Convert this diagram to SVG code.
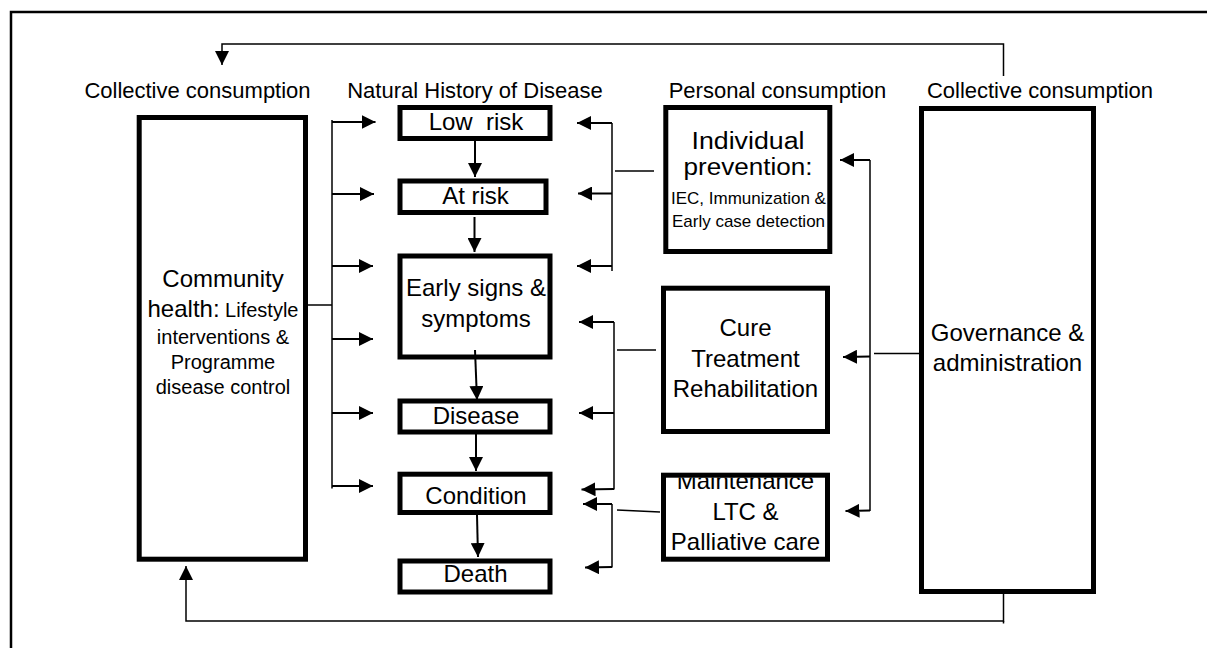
<svg xmlns="http://www.w3.org/2000/svg" width="1207" height="648" viewBox="0 0 1207 648">
<style>
.box{fill:#fff;stroke:#000;stroke-width:5}
.t{font-family:"Liberation Sans",Arial,Helvetica,sans-serif;fill:#000;text-anchor:middle}
.f22{font-size:22px}
.f24{font-size:24px}
.f23{font-size:23px}
.f20{font-size:20px}
.f17{font-size:17px}
.c{stroke:#000;fill:none;stroke-width:2}
.b{stroke:#000;fill:none;stroke-width:1.5}
.frame{stroke:#000;fill:none;stroke-width:2.5}
</style>
<defs>
<marker id="ah" markerUnits="userSpaceOnUse" markerWidth="14" markerHeight="14" refX="14" refY="7" orient="auto">
<path d="M0,0 L14,7 L0,14 Z" fill="#000"/>
</marker>
<clipPath id="mclip"><rect x="661" y="477.5" width="170" height="90"/></clipPath>
</defs>
<rect width="1207" height="648" fill="#fff"/>
<g id="frame">
<path class="frame" d="M11,648 L11,12 L1207,12"/>
</g>
<g id="labels">
<text class="t f22" x="197.5" y="98">Collective consumption</text>
<text class="t f22" x="475" y="98">Natural History of Disease</text>
<text class="t f22" x="777.5" y="98">Personal consumption</text>
<text class="t f22" x="1040" y="98">Collective consumption</text>
</g>
<g id="community">
<rect class="box" x="139.2" y="117.5" width="166.3" height="441.7"/>
<text class="t f24" x="223" y="287">Community</text>
<text class="t" x="223" y="317"><tspan class="f24">health:</tspan><tspan class="f20"> Lifestyle</tspan></text>
<text class="t f20" x="223" y="343.5">interventions &amp;</text>
<text class="t f20" x="223" y="368.5">Programme</text>
<text class="t f20" x="223" y="393.5">disease control</text>
</g>
<g id="lowrisk">
<rect class="box" x="400" y="107.5" width="150" height="31"/>
<text class="t f24" x="476" y="130">Low&#160; risk</text>
</g>
<g id="atrisk">
<rect class="box" x="400" y="181" width="146" height="31.5"/>
<text class="t f24" x="475.5" y="203.5">At risk</text>
</g>
<g id="early">
<rect class="box" x="400" y="256" width="150" height="101"/>
<text class="t f24" x="476" y="296">Early signs &amp;</text>
<text class="t f24" x="476" y="327">symptoms</text>
</g>
<g id="disease">
<rect class="box" x="400" y="401" width="150" height="31"/>
<text class="t f24" x="476" y="423.5">Disease</text>
</g>
<g id="condition">
<rect class="box" x="400" y="474.2" width="150" height="38.3"/>
<text class="t f24" x="476" y="503.5">Condition</text>
</g>
<g id="death">
<rect class="box" x="400" y="561" width="150" height="31"/>
<text class="t f24" x="475.5" y="582">Death</text>
</g>
<g id="individual">
<rect class="box" x="665.8" y="107.5" width="164" height="144"/>
<text class="t f23" x="748" y="148.5" textLength="113" lengthAdjust="spacingAndGlyphs">Individual</text>
<text class="t f23" x="748" y="174.5" textLength="129" lengthAdjust="spacingAndGlyphs">prevention:</text>
<text class="t f17" x="748.5" y="204">IEC, Immunization &amp;</text>
<text class="t f17" x="748.5" y="226.5">Early case detection</text>
</g>
<g id="cure">
<rect class="box" x="663.5" y="288.2" width="164" height="143.3"/>
<text class="t f24" x="745.5" y="336">Cure</text>
<text class="t f24" x="745.5" y="367.3">Treatment</text>
<text class="t f24" x="745.5" y="396.7">Rehabilitation</text>
</g>
<g id="maintenance">
<rect class="box" x="663.5" y="475.2" width="164" height="84"/>
<text class="t f24" x="745.5" y="489.3" clip-path="url(#mclip)">Maintenance</text>
<text class="t f24" x="745.5" y="520">LTC &amp;</text>
<text class="t f24" x="745.5" y="550">Palliative care</text>
</g>
<g id="governance">
<rect class="box" x="921.5" y="108.5" width="172" height="483"/>
<text class="t f24" x="1007.5" y="340.7">Governance &amp;</text>
<text class="t f24" x="1007.5" y="370.7">administration</text>
</g>
<g id="connectors">
<polyline class="b" points="1003.5,76 1003.5,44 222,44 222,65" marker-end="url(#ah)"/>
<polyline class="b" points="1003.5,589 1003.5,621 186,621 186,566" marker-end="url(#ah)"/>
<line class="b" x1="1003.5" y1="621" x2="1003.5" y2="623.5"/>
<line class="c" x1="475" y1="136" x2="475" y2="177" marker-end="url(#ah)"/>
<line class="c" x1="474.5" y1="217" x2="474.5" y2="252" marker-end="url(#ah)"/>
<line class="c" x1="475" y1="350" x2="477" y2="400" marker-end="url(#ah)"/>
<line class="c" x1="476" y1="434" x2="476" y2="471" marker-end="url(#ah)"/>
<line class="c" x1="477" y1="515" x2="478" y2="557" marker-end="url(#ah)"/>
<line class="b" x1="332" y1="120" x2="332" y2="488.5"/>
<line class="b" x1="308" y1="305" x2="332" y2="305"/>
<line class="c" x1="332" y1="122" x2="375.5" y2="122" marker-end="url(#ah)"/>
<line class="c" x1="332" y1="194" x2="374" y2="194" marker-end="url(#ah)"/>
<line class="c" x1="332" y1="266" x2="373" y2="266" marker-end="url(#ah)"/>
<line class="c" x1="332" y1="339" x2="373" y2="339" marker-end="url(#ah)"/>
<line class="c" x1="332" y1="413" x2="373" y2="413" marker-end="url(#ah)"/>
<line class="c" x1="332" y1="486" x2="373" y2="486" marker-end="url(#ah)"/>
<line class="b" x1="612" y1="123" x2="612" y2="271"/>
<line class="b" x1="615" y1="171" x2="654" y2="171"/>
<line class="c" x1="612" y1="123" x2="577" y2="123" marker-end="url(#ah)"/>
<line class="c" x1="612" y1="193.5" x2="578" y2="193.5" marker-end="url(#ah)"/>
<line class="c" x1="612" y1="266" x2="577" y2="266" marker-end="url(#ah)"/>
<line class="b" x1="614" y1="322" x2="614" y2="489.5"/>
<line class="b" x1="617" y1="350" x2="656" y2="350"/>
<line class="c" x1="614" y1="322" x2="579" y2="322" marker-end="url(#ah)"/>
<line class="c" x1="614" y1="413" x2="579" y2="413" marker-end="url(#ah)"/>
<line class="c" x1="614" y1="489" x2="581.5" y2="489.5" marker-end="url(#ah)"/>
<line class="b" x1="612" y1="504" x2="612" y2="567.5"/>
<line class="b" x1="617" y1="510" x2="660" y2="512"/>
<line class="c" x1="612" y1="504" x2="583" y2="504" marker-end="url(#ah)"/>
<line class="c" x1="612" y1="567" x2="585" y2="567.5" marker-end="url(#ah)"/>
<line class="b" x1="870" y1="160" x2="870" y2="511"/>
<line class="b" x1="874" y1="353.5" x2="919" y2="353.5"/>
<line class="c" x1="870" y1="160" x2="840" y2="160" marker-end="url(#ah)"/>
<line class="c" x1="870" y1="356.5" x2="843" y2="357" marker-end="url(#ah)"/>
<line class="c" x1="870" y1="510.5" x2="845.5" y2="511" marker-end="url(#ah)"/>
</g>
</svg>
